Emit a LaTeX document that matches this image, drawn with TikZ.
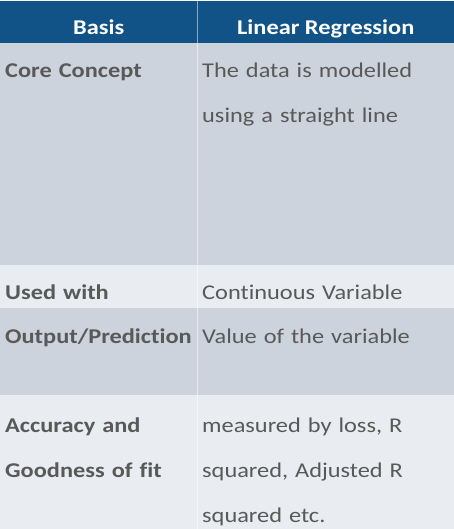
\documentclass[tikz,border=0pt]{standalone}
\usepackage{fontspec}
\setmainfont{Carlito}[FakeStretch=1.16, Ligatures=NoCommon]
\usetikzlibrary{positioning}
\definecolor{hdrblue}{RGB}{17,83,135}
\definecolor{rowdark}{RGB}{205,211,220}
\definecolor{rowlight}{RGB}{233,236,240}
\definecolor{txtgray}{RGB}{89,89,89}

\begin{document}
\begin{tikzpicture}[x=1pt, y=-1pt, node distance = 0pt,
    cell/.style = {inner sep=0pt, outer sep=0pt, anchor=north west},
    hdr/.style = {cell, fill=hdrblue, text=white, minimum height=42pt, text height=26pt, text depth=0pt, font=\fontsize{21}{45}\selectfont\bfseries},
    row/.style = {cell, minimum width=454pt},
    dark/.style = {row, fill=rowdark},
    light/.style = {row, fill=rowlight},
    key/.style = {inner sep=0pt, anchor=base west, text width=192pt, align=left, text=txtgray, font=\fontsize{21}{45}\selectfont\bfseries},
    val/.style = {key, text width=250pt, font=\fontsize{21}{45}\selectfont},
    divider/.style = {white, opacity=0.5, line width=1pt}]
    \useasboundingbox (0,0) rectangle (454,529);
    \node[hdr, minimum width=197.5pt] (basis) at (0,1) {Basis};
    \node[hdr, minimum width=256.5pt, right=of basis] (linreg) {Linear Regression};
    \node[dark, minimum height=222pt, below right=0pt of basis.south west] (core) {};
    \node[light, minimum height=43pt, below=of core] (used) {};
    \node[dark, minimum height=87pt, below=of used] (output) {};
    \node[light, minimum height=134pt, below=of output] (accuracy) {};
    \draw[divider] (linreg.north west) -- (linreg.north west |- accuracy.south);
    \node[key] (k1) at (5,78) {Core Concept};
    \node[val] (v1) at (202,78) {The data is modelled\\using a straight line};
    \node[key] (k2) at (5,299) {Used with};
    \node[val] (v2) at (202,299) {Continuous Variable};
    \node[key] (k3) at (5,343) {Output/Prediction};
    \node[val] (v3) at (202,343) {Value of the variable};
    \node[key] (k4) at (5,432) {Accuracy and\\Goodness of fit};
    \node[val] (v4) at (202,432) {measured by loss, R\\squared, Adjusted R\\squared etc.};
\end{tikzpicture}
\end{document}
